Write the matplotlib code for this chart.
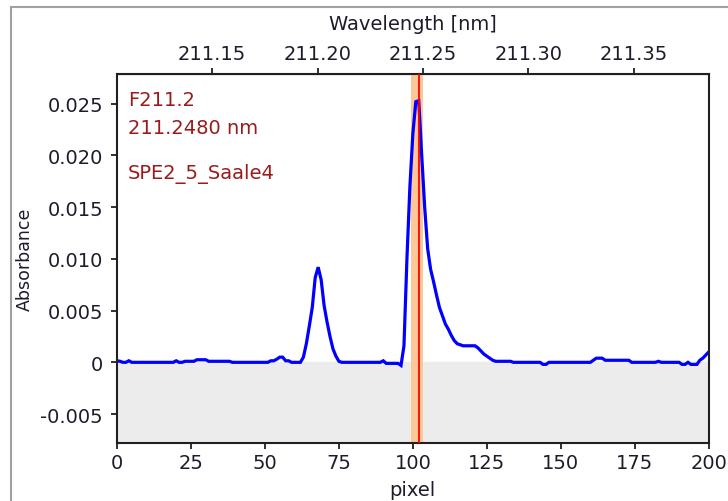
import matplotlib.pyplot as plt
import numpy as np
from matplotlib.ticker import FuncFormatter
from matplotlib.patches import Rectangle

# absorbance per detector pixel, in units of 1e-3
absorb_milli = [
    0.15, 0.1, 0.0, 0.0, 0.15, 0.0, 0.0, 0.0, 0.0, 0.0,        # 0-9
    0.0, 0.0, 0.0, 0.0, 0.0, 0.0, 0.0, 0.0, 0.0, 0.0,          # 10-19
    0.15, 0.0, 0.0, 0.1, 0.1, 0.1, 0.1, 0.25, 0.25, 0.25,      # 20-29
    0.25, 0.1, 0.1, 0.1, 0.1, 0.1, 0.1, 0.1, 0.1, 0.0,         # 30-39
    0.0, 0.0, 0.0, 0.0, 0.0, 0.0, 0.0, 0.0, 0.0, 0.0,          # 40-49
    0.0, 0.0, 0.15, 0.15, 0.3, 0.5, 0.5, 0.15, 0.15, 0.0,      # 50-59
    0.0, 0.0, 0.0, 0.5, 1.8, 3.5, 5.3, 8.2, 9.2, 8.0,          # 60-69
    5.5, 3.9, 2.5, 1.3, 0.6, 0.1, 0.0, 0.0, 0.0, 0.0,          # 70-79
    0.0, 0.0, 0.0, 0.0, 0.0, 0.0, 0.0, 0.0, 0.0, 0.0,          # 80-89
    0.15, -0.1, -0.1, -0.1, -0.1, -0.1, -0.3, 1.6, 10.0, 17.0, # 90-99
    22.1, 25.2, 25.3, 20.0, 15.0, 11.0, 9.0, 7.8, 6.5, 5.3,    # 100-109
    4.5, 3.7, 3.2, 2.6, 2.1, 1.8, 1.7, 1.6, 1.6, 1.6,          # 110-119
    1.6, 1.6, 1.4, 1.1, 0.8, 0.6, 0.4, 0.2, 0.1, 0.1,          # 120-129
    0.1, 0.1, 0.1, 0.1, 0.0, 0.0, 0.0, 0.0, 0.0, 0.0,          # 130-139
    0.0, 0.0, 0.0, 0.0, -0.2, -0.2, 0.0, 0.0, 0.0, 0.0,        # 140-149
    0.0, 0.0, 0.0, 0.0, 0.0, 0.0, 0.0, 0.0, 0.0, 0.0,          # 150-159
    0.0, 0.2, 0.4, 0.4, 0.4, 0.2, 0.2, 0.2, 0.2, 0.2,          # 160-169
    0.2, 0.2, 0.2, 0.2, 0.0, 0.0, 0.0, 0.0, 0.0, 0.0,          # 170-179
    0.0, 0.0, 0.0, 0.1, 0.0, 0.0, 0.0, 0.0, 0.0, 0.0,          # 180-189
    0.0, -0.2, -0.2, 0.0, -0.2, -0.2, -0.2, 0.2, 0.4, 0.7,     # 190-199
    1.0,                                                       # 200
]
pixels = np.arange(len(absorb_milli))
absorbance = np.array(absorb_milli) * 1e-3

line_pixel = 102.0
line_wavelength = 211.2480
nm_per_pixel = 0.0014026
band_pixels = (99.4, 103.4)

y_ticks = [-0.005, 0, 0.005, 0.010, 0.015, 0.020, 0.025]
wl_ticks = [211.15, 211.20, 211.25, 211.30, 211.35]

text_col = '#1c1c2c'
label_col = '#9b1b1b'
fs = 14

fig = plt.figure(figsize=(7.28, 5.02), dpi=100)
# outer gray frame (window border)
fig.patches.append(Rectangle((11 / 728, -0.1), 1.2, 1 - 8 / 502 + 0.1,
                             transform=fig.transFigure, fill=False,
                             edgecolor='#a0a0a0', linewidth=1.5))
ax = fig.add_axes([117 / 728, 58 / 502, 591.7 / 728, 369 / 502])

ax.set_xlim(0, 200)
ax.set_ylim(-0.0078, 0.02788)

# gray area below zero
ax.axhspan(ax.get_ylim()[0], 0, color='#ececec', zorder=0)
# marked line and its band
ax.axvspan(band_pixels[0], band_pixels[1], color='#fdc898', zorder=1, linewidth=0)
ax.plot(pixels, absorbance, color='#0000ff', linewidth=2.3, zorder=2,
        solid_joinstyle='miter')
ax.axvline(line_pixel, color='#ff0000', linewidth=1.3, zorder=3)

ax.set_yticks(y_ticks)
ax.yaxis.set_major_formatter(FuncFormatter(lambda v, _: '0' if abs(v) < 1e-9 else f'{v:.3f}'))
ax.set_xticks(np.arange(0, 201, 25))

for s in ax.spines.values():
    s.set_linewidth(1.5)
    s.set_color('#202020')
ax.tick_params(direction='out', length=4, width=1.3, colors='#202020',
               labelcolor=text_col, labelsize=fs, pad=3)
ax.tick_params(axis='y', pad=6)

ax.set_xlabel('pixel', fontsize=fs, color=text_col, labelpad=6)
ax.set_ylabel('Absorbance', fontsize=12.5, color=text_col, labelpad=5)

top = ax.secondary_xaxis(
    'top',
    functions=(lambda p: line_wavelength + (p - line_pixel) * nm_per_pixel,
               lambda w: line_pixel + (w - line_wavelength) / nm_per_pixel))
top.set_xticks(wl_ticks)
top.xaxis.set_major_formatter(FuncFormatter(lambda v, _: f'{v:.2f}'))
top.tick_params(direction='out', length=4, width=1.3, colors='#202020',
                labelcolor=text_col, labelsize=fs, pad=4)
top.set_xlabel('Wavelength [nm]', fontsize=fs, color=text_col, labelpad=11)

ax.text(0.019, 0.932, 'F211.2', transform=ax.transAxes, color=label_col,
        fontsize=fs, va='center', ha='left')
ax.text(0.019, 0.854, '211.2480 nm', transform=ax.transAxes, color=label_col,
        fontsize=fs, va='center', ha='left')
ax.text(0.019, 0.732, 'SPE2_5_Saale4', transform=ax.transAxes, color=label_col,
        fontsize=fs, va='center', ha='left')

fig.savefig('out.png', dpi=100)
